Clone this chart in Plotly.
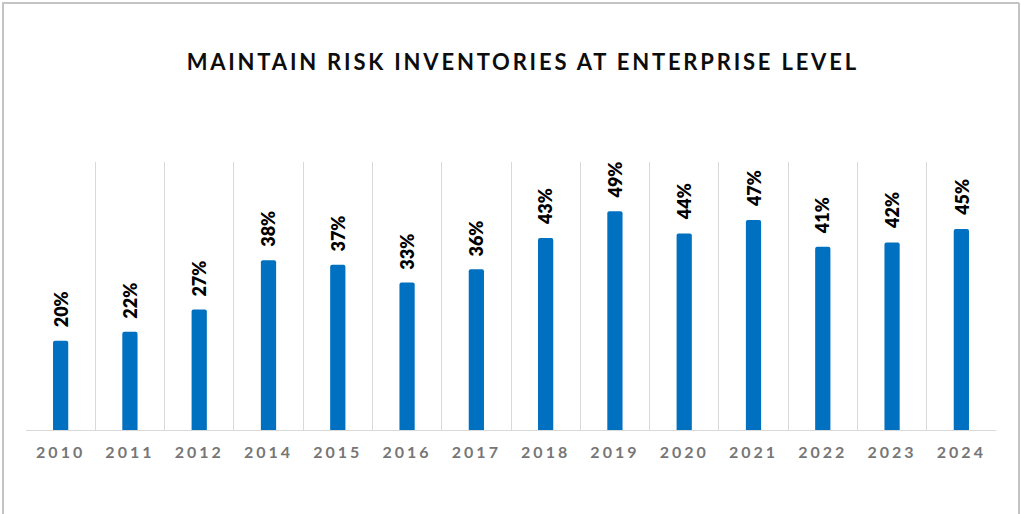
import plotly.graph_objects as go

# Survey share of organisations maintaining risk inventories at enterprise level
years = ["2010", "2011", "2012", "2014", "2015", "2016", "2017",
         "2018", "2019", "2020", "2021", "2022", "2023", "2024"]
shares = [0.20, 0.22, 0.27, 0.38, 0.37, 0.33, 0.36,
          0.43, 0.49, 0.44, 0.47, 0.41, 0.42, 0.45]

W, H = 1021, 514
ML, MR, MT, MB = 26, 25, 162, 84
PW, PH = W - ML - MR, H - MT - MB

fig = go.Figure(
    go.Bar(
        x=years,
        y=shares,
        width=0.22,
        marker=dict(color="#0070C0", line=dict(width=0)),
        hoverinfo="x+y",
    )
)

# Rotated percentage labels above each bar (x given as category index)
for i, v in enumerate(shares):
    fig.add_annotation(
        x=i, y=v, xref="x", yref="y", text=f"{round(v * 100)}%",
        textangle=-90, showarrow=False,
        xanchor="center", yanchor="bottom", yshift=11,
        font=dict(family="Lato", size=18, color="#000000", weight=800),
    )

# Light frame around the chart (top, left and right edges)
def px_x(p):
    return (p - ML) / PW

def px_y(p):
    return (H - MB - p) / PH

frame = dict(type="line", xref="paper", yref="paper",
             line=dict(color="#c4c4c4", width=2), layer="above")
fig.add_shape(**frame, x0=px_x(2), x1=px_x(1019), y0=px_y(3), y1=px_y(3))
fig.add_shape(**frame, x0=px_x(3), x1=px_x(3), y0=px_y(3), y1=px_y(H))
fig.add_shape(**frame, x0=px_x(1019), x1=px_x(1019), y0=px_y(3), y1=px_y(H))

fig.update_layout(
    width=W, height=H,
    margin=dict(l=ML, r=MR, t=MT, b=MB),
    paper_bgcolor="#ffffff",
    plot_bgcolor="#ffffff",
    barcornerradius=2,
    showlegend=False,
    title=dict(
        text="MAINTAIN RISK INVENTORIES AT ENTERPRISE LEVEL",
        x=0.512, xanchor="center", y=1 - 62 / H, yanchor="middle",
        font=dict(family="Lato", size=22, color="#0d0d0d", weight="bold"),
    ),
    xaxis=dict(
        type="category",
        tickson="boundaries",
        showgrid=True, gridcolor="#d9d9d9", gridwidth=1,
        showline=True, linecolor="#d9d9d9", linewidth=1,
        ticks="", ticklen=0,
        ticklabelstandoff=8,
        tickfont=dict(family="Lato", size=16, color="#767676", weight="bold"),
        range=[-0.5, len(years) - 0.5],
    ),
    yaxis=dict(
        range=[0, 0.60],
        showgrid=False, zeroline=False,
        showticklabels=False, ticks="",
    ),
)

# Tracked lettering for the title and the year labels
spacing_js = """
function spaceOut() {
  document.querySelectorAll('.gtitle').forEach(function (t) {
    t.style.letterSpacing = '2.8px';
  });
  document.querySelectorAll('.xtick text').forEach(function (t) {
    t.style.letterSpacing = '3px';
  });
}
spaceOut();
var gd = document.getElementById('{plot_id}');
if (gd && gd.on) { gd.on('plotly_afterplot', spaceOut); }
"""

fig.write_html("out.html", post_script=spacing_js)
